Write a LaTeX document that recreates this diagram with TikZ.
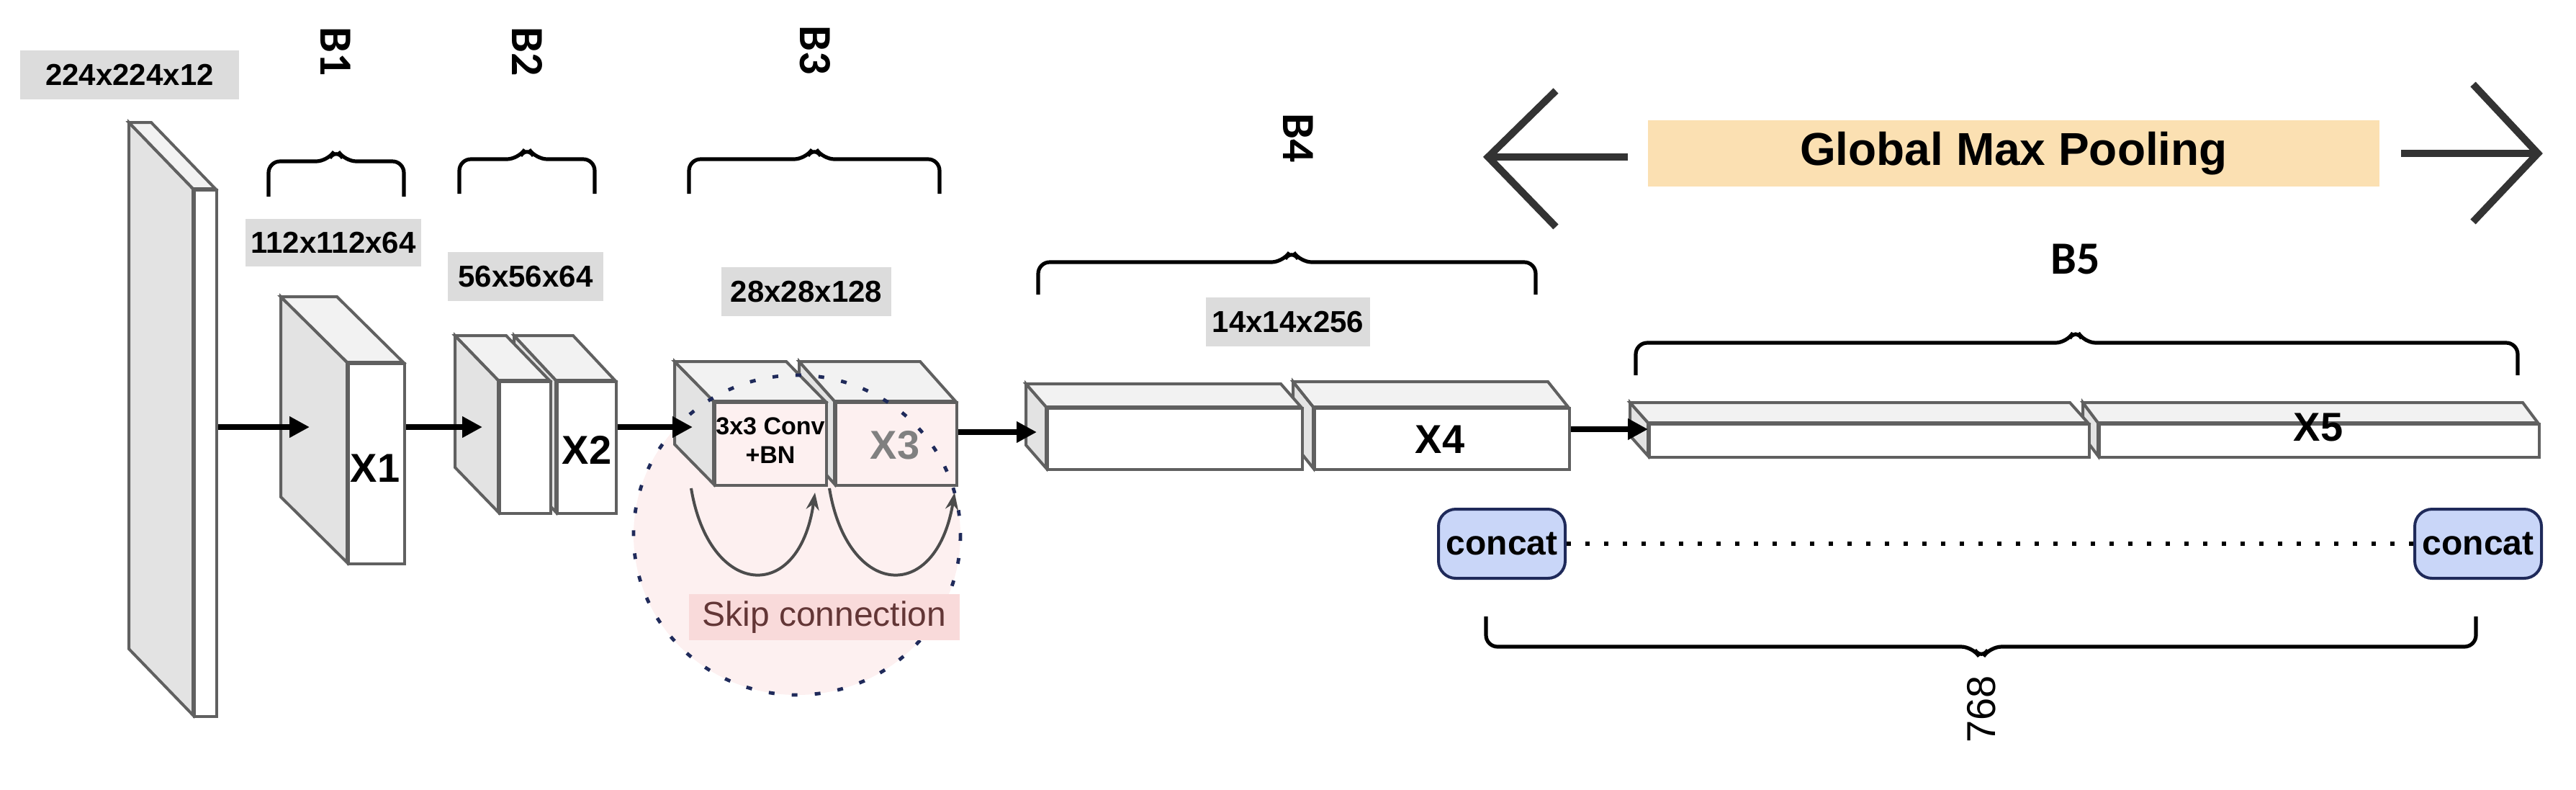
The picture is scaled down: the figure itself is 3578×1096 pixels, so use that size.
\documentclass[tikz,border=0pt]{standalone}
\usepackage{fontspec}
\setmainfont{Liberation Sans}
\newfontfamily\calfont{Carlito}
\usetikzlibrary{arrows.meta}
\definecolor{lbl}{HTML}{DCDCDC}
\definecolor{gmp}{HTML}{FBE0B2}
\definecolor{pinkbg}{HTML}{FDF0F0}
\definecolor{pinklbl}{HTML}{F9DADA}
\definecolor{cblue}{HTML}{C9D6F8}
\definecolor{navy}{HTML}{1F2A5A}
\newcommand\blk[8]{%
  \fill[gray!22,draw=gray!75!black,line width=1pt] (#1,#2)--({#1-#5},{#2-#6})--({#1-#5},{#4-#6})--(#1,#4)--cycle;
  \fill[gray!10,draw=gray!75!black,line width=1pt] (#1,#2)--({#1-#5},{#2-#6})--({#3-#5},{#2-#6})--(#3,#2)--cycle;
  \node[draw=gray!75!black,line width=1pt,fill=#7,minimum width={(#3-#1)*0.25pt},minimum height={(#4-#2)*0.25pt},anchor=north west,inner sep=0] (#8) at (#1,#2) {};}
\begin{document}
\begin{tikzpicture}[x=0.25pt,y=-0.25pt,
  dim/.style={fill=lbl,font=\bfseries\fontsize{10.5}{12}\selectfont,inner sep=0},
  blab/.style={font=\calfont\bfseries\fontsize{16}{18}\selectfont,rotate=-90},
  xlab/.style={font=\bfseries\fontsize{14}{16}\selectfont},
  flow/.style={line width=2pt,-{Triangle[length=7pt,width=7pt]}},
  brc/.style={line width=1.3pt,rounded corners=4pt},
  chev/.style={line width=2.5pt,draw=gray!40!black},
  cc/.style={draw=navy,line width=1pt,fill=cblue,rounded corners=6pt,font=\bfseries\fontsize{12}{14}\selectfont,minimum width=44pt,minimum height=24pt,inner sep=0}]
\useasboundingbox (0,0) rectangle (3578,1096);
% skip-connection circle background
\fill[pinkbg] (1107,743) ellipse [x radius=227,y radius=222];
% dimension labels
\node[dim,minimum width=76pt,minimum height=17pt] (l0) at (180,104) {224x224x12};
\node[dim,minimum width=61pt,minimum height=16.5pt] (l1) at (463,337) {112x112x64};
\node[dim,minimum width=54pt,minimum height=17pt] (l2) at (730,384) {56x56x64};
\node[dim,minimum width=59pt,minimum height=17pt] (l3) at (1120,405) {28x28x128};
\node[dim,minimum width=57pt,minimum height=17pt] (l4) at (1789,447) {14x14x256};
% B labels
\node[blab] (b1) at (466,72) {B1};
\node[blab] (b2) at (732,72) {B2};
\node[blab] (b3) at (1132,70) {B3};
\node[blab] (b4) at (1803,192) {B4};
\node[font=\calfont\bfseries\fontsize{16}{18}\selectfont] (b5) at (2883,360) {B5};
% braces
\draw[brc] (373,273)--(373,224)--(455,224)--(467,206)--(479,224)--(561,224)--(561,273);
\draw[brc] (638,269)--(638,221)--(720,221)--(732,203)--(744,221)--(826,221)--(826,269);
\draw[brc] (957,269)--(957,221)--(1119,221)--(1131,203)--(1143,221)--(1305,221)--(1305,269);
\draw[brc] (1442,409)--(1442,364)--(1782,364)--(1794,346)--(1806,364)--(2133,364)--(2133,409);
\draw[brc] (2272,521)--(2272,476)--(2871,476)--(2883,456)--(2895,476)--(3497,476)--(3497,521);
\draw[brc] (2064,856)--(2064,898)--(2740,898)--(2752,916)--(2764,898)--(3439,898)--(3439,856);
\node[font=\fontsize{14}{16}\selectfont,rotate=90] (n768) at (2752,985) {768};
% blocks (right box first so the left box lies in front)
\blk{268}{262}{299}{993}{89}{92}{white}{in}
\blk{482}{503}{560}{781}{92}{91}{white}{x1}
\node[xlab] at (521,650) {X1};
\blk{772}{528}{854}{711}{58}{62}{white}{x2b}
\blk{692}{528}{763}{711}{60}{62}{white}{x2a}
\node[xlab] at (815,625) {X2};
\blk{1159}{557}{1327}{672}{49}{55}{pinkbg}{x3b}
\blk{991}{557}{1146}{672}{54}{55}{pinkbg}{x3a}
\node[font=\bfseries\fontsize{8.5}{10}\selectfont,align=center] at (1070,612) {3x3 Conv\\+BN};
\node[xlab,text=gray] at (1243,618) {X3};
\blk{1824}{565}{2178}{650}{28}{35}{white}{x4b}
\blk{1453}{565}{1807}{650}{28}{32}{white}{x4a}
\node[xlab] at (2000,610) {X4};
\blk{2914}{587}{3525}{633}{21}{28}{white}{x5b}
\blk{2289}{587}{2900}{633}{25}{28}{white}{x5a}
\node[xlab] at (3220,593) {X5};
% dashed circle outline
\draw[navy,line width=1.2pt,dash pattern=on 2pt off 6pt] (1107,743) ellipse [x radius=227,y radius=222];
% flow arrows
\draw[flow] (in.east|-0,593) -- (430,593);
\draw[flow] (x1.east|-0,593) -- (670,593);
\draw[flow] (x2b.east|-0,593) -- (962,593);
\draw[flow] (x3b.east|-0,600) -- (1440,600);
\draw[flow] (x4b.east|-0,596) -- (2289,596);
% skip connection
\node[fill=pinklbl,text=gray!70!red!60!black,font=\fontsize{12}{14}\selectfont,minimum width=94pt,minimum height=16pt,inner sep=0] (skip) at (1145,857) {Skip connection};
\draw[gray!60!black,line width=1pt,-{Stealth[length=6pt]}] (960,678) .. controls (985,830) and (1110,840) .. (1132,684);
\draw[gray!60!black,line width=1pt,-{Stealth[length=6pt]}] (1152,678) .. controls (1177,830) and (1300,840) .. (1326,684);
% Global max pooling
\node[fill=gmp,minimum width=254pt,minimum height=23pt,font=\bfseries\fontsize{16}{18}\selectfont] (gmp) at (2797,213) {Global Max Pooling};
\coordinate (lt) at (2067,218);
\coordinate (rt) at (3525,213);
\draw[chev] (2161,126)--(lt)--(2161,315);
\draw[chev] (lt)--(2261,218);
\draw[chev] (3435,117)--(rt)--(3435,308);
\draw[chev] (3335,213)--(rt);
% concat
\node[cc] (c1) at (2086,755) {concat};
\node[cc] (c2) at (3442,755) {concat};
\draw[line width=1.5pt,dash pattern=on 1.5pt off 5pt] (c1) -- (c2);
\end{tikzpicture}
\end{document}
